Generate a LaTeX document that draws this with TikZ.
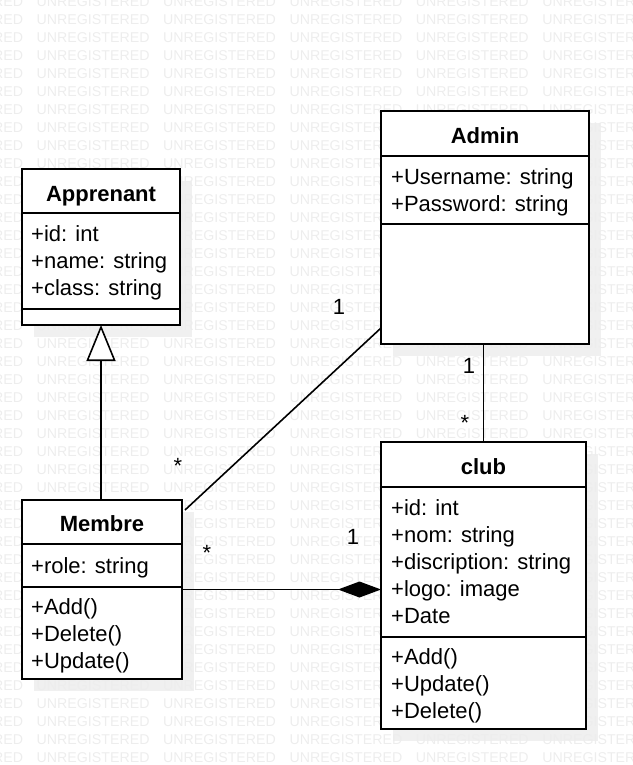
\documentclass[tikz,border=0pt]{standalone}
\usepackage{fontspec}
\setmainfont{Liberation Sans}
\usetikzlibrary{arrows.meta,calc}
\pgfdeclarelayer{back}
\pgfsetlayers{back,main}
\definecolor{wmgray}{RGB}{237,237,237}
\definecolor{shadegray}{RGB}{240,240,240}

\begin{document}
\begin{tikzpicture}[x=1pt, y=-1pt,
            classbox/.style = {draw, line width=1.6pt, fill=white, anchor=north west, inner sep=0pt, outer sep=0pt},
            title/.style = {anchor=base, inner sep=0pt, font=\fontsize{22}{27}\selectfont\bfseries},
            attr/.style = {anchor=base west, inner sep=0pt, font=\fontsize{22}{27}\selectfont},
            mult/.style = {anchor=base, inner sep=0pt, font=\fontsize{22}{27}\selectfont},
            wmtext/.style = {anchor=west, inner sep=0pt, text=wmgray, font=\fontsize{14.2}{16}\selectfont},
            sepline/.style = {line width=1.6pt},
            link/.style = {line width=1.6pt},
            inherit/.style = {link, -{Triangle[open, length=36pt, width=29pt, fill=white]}},
            compo/.style = {link, -{Diamond[length=43pt, width=16pt]}}]
            \useasboundingbox (0,0) rectangle (632,765);

            % classes
            \node[classbox, minimum width=158pt, minimum height=156pt] (apprenant) at (22,169) {};
            \node[classbox, minimum width=208pt, minimum height=233pt] (admin) at (381,111) {};
            \node[classbox, minimum width=160pt, minimum height=179pt] (membre) at (22,500) {};
            \node[classbox, minimum width=205pt, minimum height=287pt] (club) at (381,442) {};

            \draw[sepline] ([yshift=-44pt]apprenant.north west) -- ([yshift=-44pt]apprenant.north east);
            \draw[sepline] ([yshift=-140pt]apprenant.north west) -- ([yshift=-140pt]apprenant.north east);
            \draw[sepline] ([yshift=-45pt]admin.north west) -- ([yshift=-45pt]admin.north east);
            \draw[sepline] ([yshift=-113pt]admin.north west) -- ([yshift=-113pt]admin.north east);
            \draw[sepline] ([yshift=-44pt]membre.north west) -- ([yshift=-44pt]membre.north east);
            \draw[sepline] ([yshift=-87pt]membre.north west) -- ([yshift=-87pt]membre.north east);
            \draw[sepline] ([yshift=-45pt]club.north west) -- ([yshift=-45pt]club.north east);
            \draw[sepline] ([yshift=-195pt]club.north west) -- ([yshift=-195pt]club.north east);

            \node[title] (apprenant-name) at ([yshift=-32pt]apprenant.north) {Apprenant};
            \node[title] (admin-name) at ([yshift=-32pt]admin.north) {Admin};
            \node[title] (membre-name) at ([yshift=-31pt]membre.north) {Membre};
            \node[title] (club-name) at ([yshift=-32pt]club.north) {club};

            \foreach \t [count=\i] in {+id: int, +name: string, +class: string}
                \node[attr] (apprenant-a\i) at ($(apprenant.north west)+(9,45+27*\i)$) {\t};
            \foreach \t [count=\i] in {+Username: string, +Password: string}
                \node[attr] (admin-a\i) at ($(admin.north west)+(10,46+27*\i)$) {\t};
            \foreach \t [count=\i] in {+role: string}
                \node[attr] (membre-a\i) at ($(membre.north west)+(9,46+27*\i)$) {\t};
            \foreach \t [count=\i] in {+Add(), +Delete(), +Update()}
                \node[attr] (membre-m\i) at ($(membre.north west)+(9,87+27*\i)$) {\t};
            \foreach \t [count=\i] in {+id: int, +nom: string, +discription: string, +logo: image, +Date}
                \node[attr] (club-a\i) at ($(club.north west)+(10,46+27*\i)$) {\t};
            \foreach \t [count=\i] in {+Add(), +Update(), +Delete()}
                \node[attr] (club-m\i) at ($(club.north west)+(10,195+27*\i)$) {\t};

            % relations
            \draw[inherit] (membre.north -| apprenant.south) -- (apprenant.south);
            \coordinate (admin-end) at ($(admin.south west)+(0,-16)$);
            \coordinate (membre-end) at ($(membre.north east)+(3,10)$);
            \draw[link] (admin-end) -- (membre-end);
            \draw[link] (admin.south -| club.north) -- (club.north);
            \draw[compo] (membre.east) -- (membre.east -| club.west);

            \node[mult] (adm-mem-1) at (339,314) {1};
            \node[mult] (adm-mem-n) at (178,473) {*};
            \node[mult] (adm-club-1) at (469,373) {1};
            \node[mult] (adm-club-n) at (465,430) {*};
            \node[mult] (mem-club-n) at (207,560) {*};
            \node[mult] (mem-club-1) at (353,544) {1};

            % shadows and watermark
            \begin{pgfonlayer}{back}
                \foreach \b in {apprenant, admin, membre, club}
                    \fill[shadegray] ([shift={(12,12)}]\b.north west) rectangle ([shift={(12,12)}]\b.south east);
                \foreach \r in {0,...,42}
                    \foreach \c in {0,...,5}
                        \node[wmtext] (wm-\r-\c) at (36.5+126.4*\c-126.4, 1.3+18*\r) {UNREGISTERED};
            \end{pgfonlayer}
        \end{tikzpicture}
\end{document}
